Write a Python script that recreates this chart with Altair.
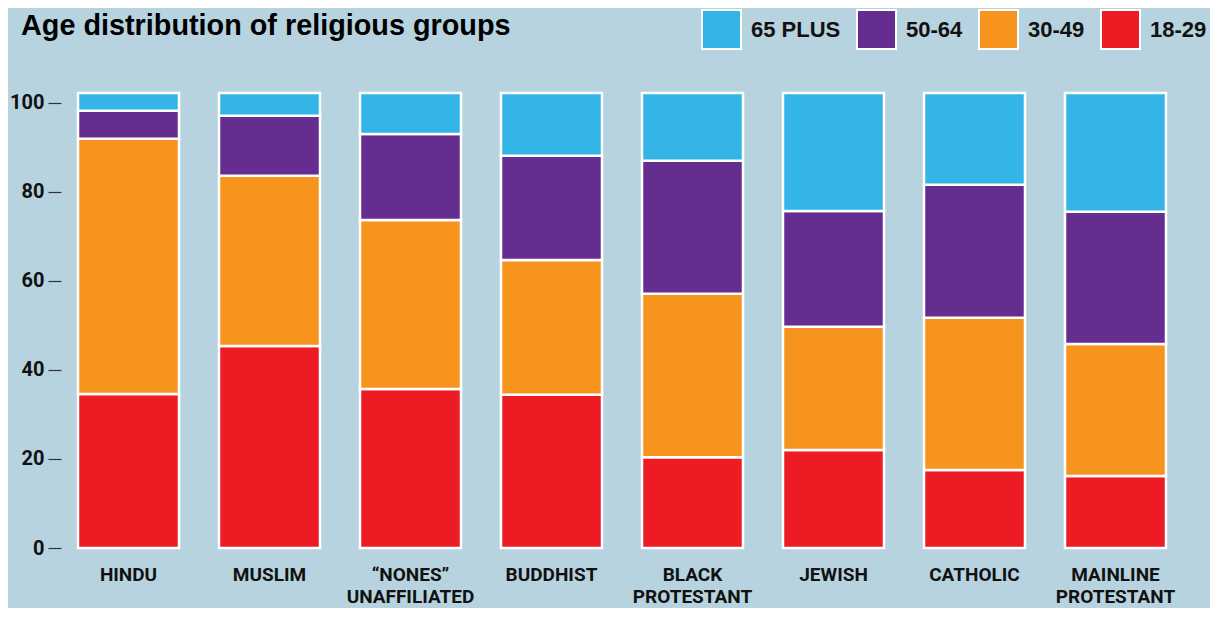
import altair as alt
import pandas as pd

title_text = "Age distribution of religious groups"
categories = ["HINDU", "MUSLIM", "“NONES”|UNAFFILIATED", "BUDDHIST",
              "BLACK|PROTESTANT", "JEWISH", "CATHOLIC", "MAINLINE|PROTESTANT"]
age_groups = ["65 PLUS", "50-64", "30-49", "18-29"]
colors = ["#33b5e8", "#652d8f", "#f7941e", "#ed1c24"]

age_18_29 = [34.6, 45.4, 35.7, 34.4, 20.4, 22.0, 17.5, 16.2]
age_30_49 = [57.3, 38.2, 38.0, 30.3, 36.7, 27.7, 34.2, 29.6]
age_50_64 = [6.3, 13.5, 19.3, 23.4, 29.9, 26.0, 29.9, 29.7]
age_65_plus = [4.0, 5.1, 9.2, 14.1, 15.2, 26.5, 20.6, 26.7]

series = {"18-29": age_18_29, "30-49": age_30_49, "50-64": age_50_64, "65 PLUS": age_65_plus}
stack_order = {"18-29": 0, "30-49": 1, "50-64": 2, "65 PLUS": 3}

rows = []
for grp, vals in series.items():
    for cat, v in zip(categories, vals):
        rows.append({"group": cat, "age": grp, "value": v, "order": stack_order[grp]})
df = pd.DataFrame(rows)

narrow = "Roboto, Liberation Sans, sans-serif"
sans = "Liberation Sans, Arial, Helvetica, sans-serif"

bars = alt.Chart(df).mark_bar(stroke="white", strokeWidth=2.5).encode(
    x=alt.X("group:N", sort=categories,
            scale=alt.Scale(paddingInner=0.2837, paddingOuter=0.1206),
            axis=alt.Axis(title=None, domain=False, ticks=False, labelAngle=0,
                          labelExpr="split(datum.label, '|')",
                          labelFont=narrow, labelFontSize=19, labelFontWeight="bold",
                          labelColor="#111111", labelPadding=17, labelLineHeight=22,
                          labelBaseline="top")),
    y=alt.Y("value:Q", stack="zero",
            scale=alt.Scale(domain=[0, 102.2], nice=False, zero=True),
            axis=alt.Axis(title=None, domain=False, grid=False, values=[0, 20, 40, 60, 80, 100],
                          tickSize=13, tickWidth=1.2, tickColor="#333333", labelPadding=4,
                          labelFont=narrow, labelFontSize=20, labelFontWeight="bold",
                          labelColor="#111111")),
    color=alt.Color("age:N",
                    scale=alt.Scale(domain=age_groups, range=colors),
                    legend=alt.Legend(title=None, orient="none", legendX=640, legendY=-84,
                                      direction="horizontal", symbolType="square",
                                      symbolSize=1521, symbolStrokeColor="white",
                                      symbolStrokeWidth=2, symbolOpacity=1,
                                      labelFont=sans, labelFontSize=22, labelFontWeight="bold",
                                      labelColor="#111111", labelOffset=9, columnPadding=12,
                                      padding=0)),
    order=alt.Order("order:Q", sort="ascending"),
)

title = alt.Chart(pd.DataFrame({"t": [title_text]})).mark_text(
    align="left", baseline="alphabetic", font=sans, fontSize=28.8, fontWeight="bold",
    color="#000000"
).encode(
    text="t:N",
    x=alt.value(-40),
    y=alt.value(-58),
)

chart = alt.layer(bars, title).properties(
    width=1122,
    height=455,
    padding={"left": 53, "top": 85, "right": 27, "bottom": 60},
    autosize=alt.AutoSizeParams(type="none"),
).configure(
    background="#b7d3df",
).configure_view(strokeWidth=0)

chart.save("out.html", embed_options={"renderer": "svg", "actions": False})
